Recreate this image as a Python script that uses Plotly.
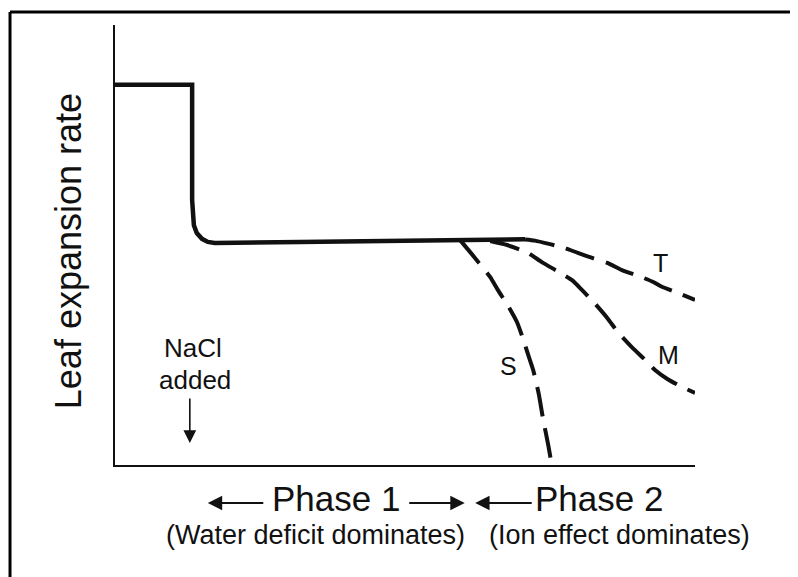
import plotly.graph_objects as go

# ---- data (time in arbitrary units 0-100, leaf expansion rate 0-100) ----
solid_x = [0, 13.3, 13.3, 13.4, 13.6, 14.1, 15.0, 16.0, 17.2, 31.9, 49.1, 59.5, 70.7]
solid_y = [86.4, 86.4, 60.2, 56.8, 54.5, 52.7, 51.4, 50.7, 50.45, 50.7, 51.0, 51.1, 51.3]

s_x = [59.5, 62.1, 64.7, 66.0, 67.8, 69.3, 70.3, 71.2, 72.1, 73.1, 73.8, 74.7, 75.3]
s_y = [51.1, 47.0, 42.7, 39.8, 36.1, 32.5, 28.9, 25.2, 21.6, 15.9, 10.5, 4.5, 0.0]

m_x = [64.7, 67.6, 71.2, 73.6, 76.2, 78.8, 80.5, 82.8, 85.0, 86.7, 89.1, 91.4,
       93.1, 95.3, 97.8, 100.0]
m_y = [50.9, 50.0, 48.2, 46.1, 44.1, 42.0, 39.8, 36.6, 33.2, 30.2, 26.8, 23.9,
       21.6, 19.5, 17.7, 16.4]

t_x = [70.7, 72.4, 75.0, 77.6, 79.8, 82.4, 85.0, 87.4, 90.2, 92.8, 94.3, 97.1, 100.0]
t_y = [51.25, 51.0, 50.2, 49.3, 48.2, 47.0, 45.9, 44.3, 43.0, 41.6, 40.5, 39.1, 37.5]

curve_labels = ["S", "M", "T"]
label_x = [67.9, 95.5, 94.0]
label_y = [22.5, 25.0, 45.9]

y_title = "Leaf expansion rate"
nacl_lines = ["NaCl", "added"]
phase_labels = ["Phase 1", "Phase 2"]
phase_notes = ["(Water deficit dominates)", "(Ion effect dominates)"]
phase_label_x = [38.1, 83.4]
phase_note_x = [34.5, 86.9]

FONT = "Liberation Sans, Arial, sans-serif"
INK = "#111111"

fig = go.Figure()
fig.add_trace(go.Scatter(x=solid_x, y=solid_y, mode="lines",
                         line=dict(color=INK, width=4.5), hoverinfo="skip"))
for xs, ys in [(s_x, s_y), (m_x, m_y), (t_x, t_y)]:
    fig.add_trace(go.Scatter(x=xs, y=ys, mode="lines",
                             line=dict(color=INK, width=4, dash="30px,12px",
                                       shape="spline", smoothing=0.5),
                             hoverinfo="skip"))

ann = []
for lab, lx, ly in zip(curve_labels, label_x, label_y):
    ann.append(dict(x=lx, y=ly, text=lab, showarrow=False,
                    xanchor="center", yanchor="middle",
                    font=dict(size=25, color=INK, family=FONT)))

# y title
ann.append(dict(xref="paper", yref="paper", x=-0.081, y=0.486, text=y_title,
                textangle=-90, showarrow=False, xanchor="center", yanchor="middle",
                font=dict(size=36, color=INK, family=FONT)))

# NaCl added
ann.append(dict(x=13.4, y=26.6, text=nacl_lines[0], showarrow=False,
                xanchor="center", yanchor="middle",
                font=dict(size=26, color=INK, family=FONT)))
ann.append(dict(x=13.8, y=19.3, text=nacl_lines[1], showarrow=False,
                xanchor="center", yanchor="middle",
                font=dict(size=26, color=INK, family=FONT)))
ann.append(dict(x=12.9, y=5.0, text="", showarrow=True, ax=0, ay=-46,
                arrowhead=2, arrowsize=1.6, arrowwidth=1.6, arrowcolor=INK))

# phase labels
for lab, lx in zip(phase_labels, phase_label_x):
    ann.append(dict(x=lx, xref="x", yref="paper", y=-0.075, text=lab,
                    showarrow=False, xanchor="center", yanchor="middle",
                    font=dict(size=35, color=INK, family=FONT)))
for lab, lx in zip(phase_notes, phase_note_x):
    ann.append(dict(x=lx, xref="x", yref="paper", y=-0.159, text=lab,
                    showarrow=False, xanchor="center", yanchor="middle",
                    font=dict(size=27, color=INK, family=FONT)))

# phase arrows (head x in data units, tail offset in px)
arrow_heads = [16.0, 60.3, 62.1, 105.5]
arrow_tails = [57, -57, 58, -60]
for hx, tx in zip(arrow_heads, arrow_tails):
    ann.append(dict(x=hx, xref="x", yref="paper", y=-0.0864, text="",
                    showarrow=True, ax=tx, ay=0, arrowhead=2, arrowsize=1.6,
                    arrowwidth=1.8, arrowcolor=INK))

shapes = [
    dict(type="line", xref="paper", yref="paper", x0=-0.181, x1=1.2,
         y0=1.0295, y1=1.0295, line=dict(color="black", width=3)),
    dict(type="line", xref="paper", yref="paper", x0=-0.181, x1=-0.181,
         y0=1.0295, y1=-0.3, line=dict(color="black", width=3)),
]

fig.update_layout(
    width=790, height=569,
    margin=dict(l=107, r=103, t=17, b=112),
    paper_bgcolor="white", plot_bgcolor="white",
    showlegend=False,
    annotations=ann, shapes=shapes,
    xaxis=dict(range=[0, 100], showgrid=False, zeroline=False, showticklabels=False,
               ticks="", showline=True, linecolor=INK, linewidth=2),
    yaxis=dict(range=[0, 100], showgrid=False, zeroline=False, showticklabels=False,
               ticks="", showline=True, linecolor=INK, linewidth=2),
)

fig.write_html("out.html")
